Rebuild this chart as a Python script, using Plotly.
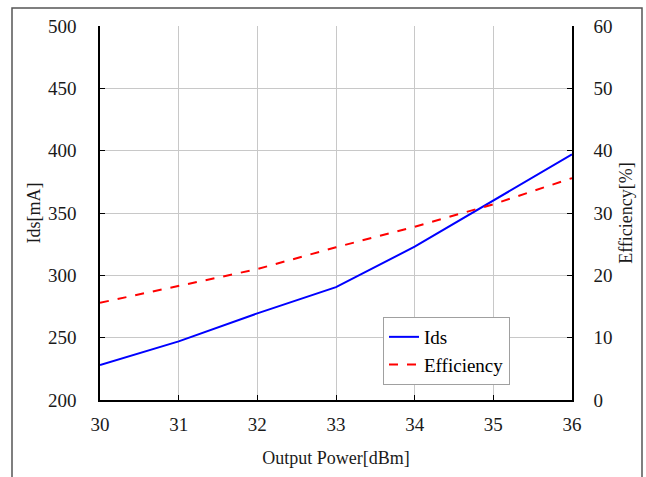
import plotly.graph_objects as go

output_power = [30, 31, 32, 33, 34, 35, 36]
ids_ma = [228, 247, 269.5, 290.5, 323, 360, 397]
efficiency_pct = [15.6, 18.3, 21.0, 24.5, 27.8, 31.4, 35.6]

FONT = "Liberation Serif"

fig = go.Figure()
fig.add_trace(go.Scatter(x=output_power, y=ids_ma, name="Ids", mode="lines",
                         line=dict(color="#0000ff", width=2)))
fig.add_trace(go.Scatter(x=output_power, y=efficiency_pct, name="Efficiency", mode="lines",
                         line=dict(color="#ff0000", width=2, dash="dash"), yaxis="y2"))

W, H = 646, 477
L, R, T, B = 100, 572, 26, 400

def px(x):
    return (x - L) / (R - L)

def py(y):
    return (B - y) / (B - T)

fig.update_layout(
    width=W, height=H,
    margin=dict(l=L, r=W - R, t=T, b=H - B),
    paper_bgcolor="white", plot_bgcolor="white",
    font=dict(family=FONT, size=19, color="#1a1a1a"),
    showlegend=True,
    legend=dict(x=px(383), y=py(317), xanchor="left", yanchor="top",
                bgcolor="white", bordercolor="#a0a0a0", borderwidth=1,
                tracegroupgap=0,
                font=dict(family=FONT, size=19, color="#000000")),
    xaxis=dict(range=[30, 36], tickmode="array", tickvals=output_power,
               ticks="inside", ticklen=5, tickcolor="#000", showline=True,
               linecolor="#000", linewidth=1.5, showgrid=True, gridcolor="#c8c8c8",
               gridwidth=1, zeroline=False, ticklabelstandoff=6,
               tickfont=dict(family=FONT, size=19),
               title=dict(text="Output Power[dBm]", standoff=18,
                          font=dict(family=FONT, size=18))),
    yaxis=dict(range=[200, 500], tickvals=[200, 250, 300, 350, 400, 450, 500],
               ticks="inside", ticklen=5, tickcolor="#000", showline=True,
               linecolor="#000", linewidth=1.5, showgrid=True, gridcolor="#c8c8c8",
               gridwidth=1, zeroline=False, ticklabelstandoff=18,
               tickfont=dict(family=FONT, size=19),
               title=dict(text="Ids[mA]", standoff=3, font=dict(family=FONT, size=18))),
    yaxis2=dict(range=[0, 60], tickvals=[0, 10, 20, 30, 40, 50, 60], overlaying="y",
                side="right", ticks="inside", ticklen=5, tickcolor="#000",
                showline=True, linecolor="#000", linewidth=1.5, showgrid=False,
                zeroline=False, ticklabelstandoff=16,
                tickfont=dict(family=FONT, size=19),
                title=dict(text="Efficiency[%]", standoff=8, font=dict(family=FONT, size=18))),
)

# outer frame
fig.add_shape(type="rect", xref="paper", yref="paper",
              x0=px(12), x1=px(642), y0=py(495), y1=py(8),
              line=dict(color="#555555", width=1.5), layer="below")

fig.write_html("out.html")
